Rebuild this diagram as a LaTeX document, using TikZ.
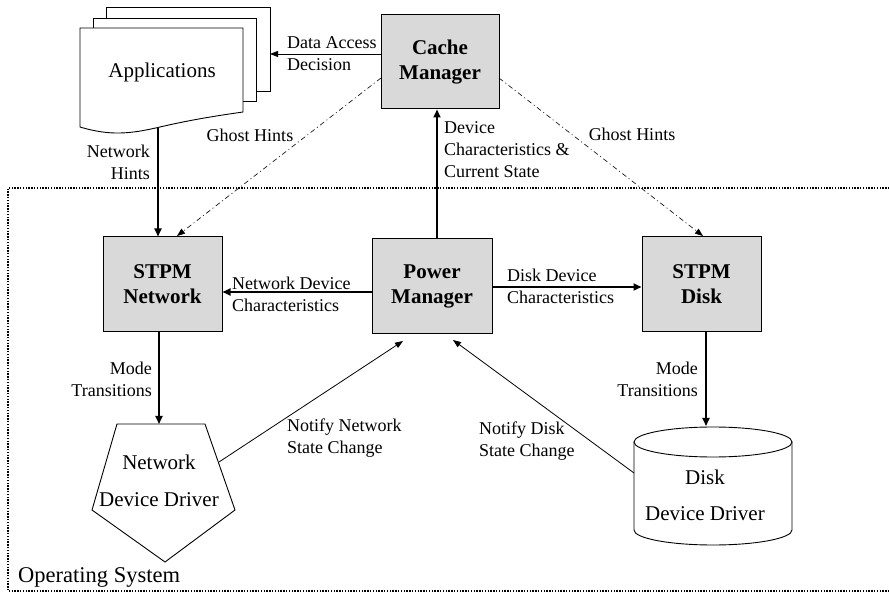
\documentclass[tikz,border=0pt]{standalone}
\usepackage{fontspec}
\setmainfont{Liberation Serif}
\usetikzlibrary{arrows.meta}
\definecolor{boxgray}{HTML}{D9D9D9}
\tikzset{
  box/.style={draw=black, line width=1pt, fill=boxgray, minimum width=119pt, minimum height=95pt, align=center, font=\fontsize{21}{25}\selectfont\bfseries, inner sep=0pt},
  page/.style={draw=black, line width=0.9pt, fill=white},
  lbl/.style={font=\fontsize{18}{22}\selectfont, inner sep=0pt},
  thickarr/.style={line width=1.8pt, -{Triangle[length=8pt,width=7pt]}},
  thinarr/.style={line width=0.8pt, -{Triangle[length=8pt,width=6pt]}},
  ghost/.style={line width=0.6pt, dash pattern=on 5pt off 3pt on 1pt off 3pt, -{Triangle[length=8pt,width=6pt]}},
  osbox/.style={line width=1.4pt, dash pattern=on 1.4pt off 1.4pt},
  shapeline/.style={draw=black, line width=0.9pt, fill=white},
  txt/.style={font=\fontsize{21}{25}\selectfont, inner sep=0pt, align=center}
}
\begin{document}
\begin{tikzpicture}[x=1pt,y=-1pt]
\useasboundingbox (0,0) rectangle (889,593);
% operating system box
\draw[osbox] (895,188) -- (8,188) -- (8,591) -- (895,591);
\node[txt, font=\fontsize{22.5}{26}\selectfont, anchor=west] (os) at (18,577) {Operating System};
% applications stack
\draw[page] (106,7) rectangle (270,91);
\draw[page] (93,18) rectangle (256,101);
\draw[page] (80,28) -- (243,28) -- (243,112)
  .. controls (215,116) and (190,120) .. (160,127)
  .. controls (130,134) and (110,136) .. (80,127) -- cycle;
\node[txt] (app) at (162,72) {Applications};
\coordinate (appb) at (158,128);
\coordinate (appr) at (270,54);
% boxes
\node[box, minimum width=118pt, minimum height=94pt] (cm) at (440,62) {Cache\\Manager};
\node[box] (stn) at (162.5,284.5) {STPM\\Network};
\node[box, minimum width=120pt] (pm) at (432,286.5) {Power\\Manager};
\node[box] (std) at (701.5,284.5) {STPM\\Disk};
% network device driver pentagon
\draw[shapeline] (117,424) -- (205,424) -- (235,510) -- (165,562) -- (92,510) -- cycle;
\node[txt, font=\fontsize{21}{37}\selectfont] (nd) at (159,481) {Network\\Device Driver};
\coordinate (ndtop) at (159,424);
\coordinate (ndr) at (219,462);
% disk device driver cylinder
\draw[shapeline] (634,442) -- (634,530) arc[start angle=180, end angle=360, x radius=79pt, y radius=15pt] -- (792,442);
\draw[shapeline] (713,442) ellipse[x radius=79pt, y radius=15pt];
\node[txt, font=\fontsize{21}{36}\selectfont] (dd) at (705,495) {Disk\\Device Driver};
\coordinate (ddtop) at (706,426);
\coordinate (ddl) at (634,473);
% connectors
\draw[thinarr] (cm.west |- appr) -- (appr);
\node[lbl, anchor=west, align=left] (l1) at (287,53.5) {Data Access\\Decision};
\draw[ghost] (381,78) -- (177,236);
\node[lbl] (l2) at (250,135) {Ghost Hints};
\draw[ghost] (499,78) -- (703,236);
\node[lbl] (l3) at (632,134) {Ghost Hints};
\draw[thickarr] (437,0 |- pm.north) -- (437,0 |- cm.south);
\node[lbl, anchor=west, align=left] (l4) at (444,149.5) {Device\\Characteristics \&\\Current State};
\draw[thickarr] (appb) -- (appb |- stn.north);
\node[lbl, anchor=east, align=right] (l5) at (150,162) {Network\\Hints};
\draw[thickarr] (pm.west |- 0,292) -- (stn.east |- 0,292);
\node[lbl, anchor=west, align=left] (l6) at (232,294.5) {Network Device\\Characteristics};
\draw[thickarr] (pm.east |- 0,287) -- (std.west |- 0,287) ;
\node[lbl, anchor=west, align=left] (l7) at (507,286.5) {Disk Device\\Characteristics};
\draw[thickarr] (ndtop |- stn.south) -- (ndtop);
\node[lbl, anchor=east, align=right] (l8) at (152,379) {Mode\\Transitions};
\draw[thickarr] (ddtop |- std.south) -- (ddtop);
\node[lbl, anchor=east, align=right] (l9) at (698,379) {Mode\\Transitions};
\draw[thinarr] (ndr) -- (403,341);
\node[lbl, anchor=west, align=left] (l10) at (287,438) {Notify Network\\State Change};
\draw[thinarr] (ddl) -- (453,340);
\node[lbl, anchor=west, align=left] (l11) at (479,441) {Notify Disk\\State Change};
\end{tikzpicture}
\end{document}
